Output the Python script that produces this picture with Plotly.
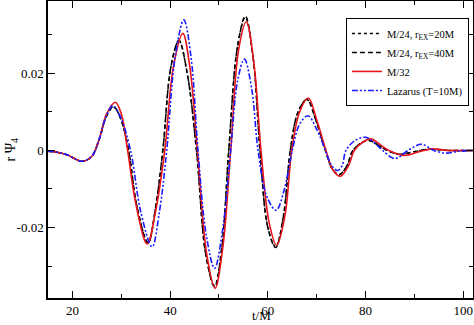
import plotly.graph_objects as go

# ---- data ----
t_m24_20 = [15, 17, 19, 22, 24, 25.5, 27, 28.4, 29.8, 31.5, 33.2, 35.5, 37, 38.5, 40.2, 41.8, 43.5, 45.4,
            47.3, 49.1, 50.6, 52.0, 53.8, 55.4, 57.0, 58.4, 60.0, 61.6, 63.2, 64.6, 66.2, 68.0, 69.8,
            71.8, 73.2, 74.6, 76.2, 77.4, 79.2, 80.8, 82.7, 84.5, 87, 90, 93, 97, 102]
y_m24_20 = [-0.0002, -0.0005, -0.0012, -0.0028, -0.0015, 0.003, 0.009, 0.0113, 0.0085, 0.0, -0.0145, -0.0240,
            -0.015, 0.0, 0.022, 0.0285, 0.020, 0.0, -0.027, -0.0351, -0.025, 0.0, 0.027, 0.0346, 0.024, 0.0,
            -0.020, -0.0250, -0.017, 0.0, 0.010, 0.0132, 0.008, 0.0, -0.0048, -0.0063, -0.004, 0.0, 0.002,
            0.0026, 0.0013, 0.0, -0.001, -0.0003, 0.0003, 0.0, 0.0]

t_m24_40 = [15, 17, 19, 22, 24, 25.5, 27, 28.4, 29.8, 31.5, 33.2, 35.5, 37, 38.5, 40.2, 41.8, 43.5, 45.4,
            47.3, 49.1, 50.6, 52.0, 53.8, 55.4, 57.0, 58.4, 60.0, 61.6, 63.2, 64.6, 66.2, 68.0, 69.8,
            71.8, 73.2, 74.6, 76.2, 77.4, 79.2, 80.8, 82.7, 84.5, 87, 90, 93, 97, 102]
y_m24_40 = [-0.0002, -0.0005, -0.0012, -0.0028, -0.0015, 0.003, 0.009, 0.0114, 0.0085, 0.0, -0.0145, -0.0240,
            -0.015, 0.0, 0.022, 0.0286, 0.020, 0.0, -0.027, -0.0354, -0.025, 0.0, 0.027, 0.0349, 0.024, 0.0,
            -0.020, -0.0252, -0.017, 0.0, 0.010, 0.0133, 0.008, 0.0, -0.0048, -0.0063, -0.004, 0.0, 0.002,
            0.0026, 0.0013, 0.0, -0.001, -0.0003, 0.0003, 0.0, 0.0]

t_m32 = [15, 17, 19, 22, 24, 25.5, 27, 28.8, 30, 31.3, 33, 35.3, 37, 38.9, 40.7, 42.6, 44, 45.6, 47.5,
         49.2, 50.8, 52.4, 54, 55.6, 57.2, 58.6, 60.3, 61.8, 63.5, 64.9, 66.5, 68.3, 70, 71.9, 73.3, 74.8,
         76.5, 77.7, 79.5, 81.1, 83, 84.8, 88, 91, 93.7, 97, 102]
y_m32 = [-0.0002, -0.0005, -0.0012, -0.0028, -0.0015, 0.003, 0.0095, 0.0125, 0.0095, 0.0, -0.014, -0.0243,
         -0.016, 0.0, 0.022, 0.0304, 0.022, 0.0, -0.027, -0.0358, -0.025, 0.0, 0.026, 0.0334, 0.022, 0.0,
         -0.019, -0.0246, -0.017, 0.0, 0.010, 0.0136, 0.008, 0.0, -0.005, -0.0067, -0.004, 0.0, 0.0022,
         0.0030, 0.0015, 0.0, -0.0013, -0.0003, 0.0004, 0.0, 0.0]

t_laz = [15, 17, 19, 22, 24, 25.5, 27, 28.3, 29.8, 31.9, 34, 36.3, 37.8, 39.3, 41, 42.8, 44.3, 45.7, 47.4,
         49.1, 50.7, 52.4, 53.8, 55.2, 56.7, 58.0, 59.8, 61.7, 63.4, 65.0, 66.5, 68.2, 70, 71.8, 73, 74.3,
         75.2, 76.0, 78, 80.1, 82, 83.5, 86, 88.7, 91.4, 94, 96.5, 99, 102]
y_laz = [-0.0001, -0.0005, -0.0012, -0.0028, -0.0014, 0.003, 0.0092, 0.0116, 0.0088, 0.0, -0.016, -0.0250,
         -0.016, 0.0, 0.024, 0.0339, 0.024, 0.0, -0.022, -0.0306, -0.021, 0.0, 0.018, 0.0237, 0.016, 0.0,
         -0.012, -0.0155, -0.010, 0.0, 0.0068, 0.0090, 0.0055, 0.0, -0.0038, -0.0052, -0.004, 0.0, 0.0027,
         0.0034, 0.0018, 0.0, -0.0021, 0.0, 0.0016, 0.0, -0.0007, -0.0002, 0.0]

names = ["M/24, r<sub>EX</sub>=20M", "M/24, r<sub>EX</sub>=40M", "M/32", "Lazarus (T=10M)"]

x_ticks = [20, 40, 60, 80, 100]
x_ticklabels = ["20", "40", "60", "80", "100"]
y_ticks = [-0.02, 0, 0.02]
y_ticklabels = ["-0.02", "0", "0.02"]

FONT = "Liberation Serif"

fig = go.Figure()
fig.add_trace(go.Scatter(x=t_m24_20, y=y_m24_20, name=names[0], mode="lines",
                         line=dict(color="black", width=1.5, dash="dot", shape="spline")))
fig.add_trace(go.Scatter(x=t_m24_40, y=y_m24_40, name=names[1], mode="lines",
                         line=dict(color="black", width=1.5, dash="5px,3px", shape="spline")))
fig.add_trace(go.Scatter(x=t_m32, y=y_m32, name=names[2], mode="lines",
                         line=dict(color="#e8141c", width=1.6, shape="spline")))
fig.add_trace(go.Scatter(x=t_laz, y=y_laz, name=names[3], mode="lines",
                         line=dict(color="#1a1aff", width=1.6, dash="6px,2px,2px,2px,2px,2px", shape="spline")))

axis_common = dict(showline=True, linecolor="black", linewidth=1.5, mirror="ticks",
                   ticks="inside", ticklen=7, tickwidth=1.2, tickcolor="black",
                   showgrid=False, zeroline=False, automargin=False,
                   tickfont=dict(family=FONT, size=13, color="black"))

fig.update_xaxes(range=[15, 102], tickmode="array", tickvals=x_ticks, ticktext=x_ticklabels,
                 minor=dict(tickvals=[30, 50, 70, 90], ticks="inside", ticklen=4, tickcolor="black", tickwidth=1.2),
                 **axis_common)
fig.update_yaxes(range=[-0.0383, 0.0388], tickmode="array", tickvals=y_ticks, ticktext=y_ticklabels,
                 minor=dict(tickvals=[-0.03, -0.01, 0.01, 0.03], ticks="inside", ticklen=4, tickcolor="black", tickwidth=1.2),
                 **axis_common)

fig.update_layout(
    width=474, height=325,
    margin=dict(l=48, r=1, t=1, b=27, autoexpand=False),
    paper_bgcolor="white", plot_bgcolor="white",
    font=dict(family=FONT, size=13, color="black"),
    legend=dict(x=0.701, y=0.943, xanchor="left", yanchor="top",
                bordercolor="black", borderwidth=1, bgcolor="white",
                font=dict(family=FONT, size=10.5, color="black"),
                tracegroupgap=0, itemwidth=30),
    annotations=[
        dict(text="r Ψ<sub>4</sub>", xref="paper", yref="paper", x=-0.085, y=0.5,
             xanchor="center", yanchor="middle", textangle=-90, showarrow=False,
             font=dict(family=FONT, size=14, color="black")),
        dict(text="t/M", xref="paper", yref="paper", x=0.5035, y=-0.0875,
             xanchor="center", yanchor="bottom", showarrow=False, borderpad=0,
             font=dict(family=FONT, size=13, color="black")),
    ],
)

fig.write_html("out.html", config={"displayModeBar": False},
               post_script="document.body.style.margin='0';document.body.style.padding='0';"
                           "document.body.style.overflow='hidden';")
